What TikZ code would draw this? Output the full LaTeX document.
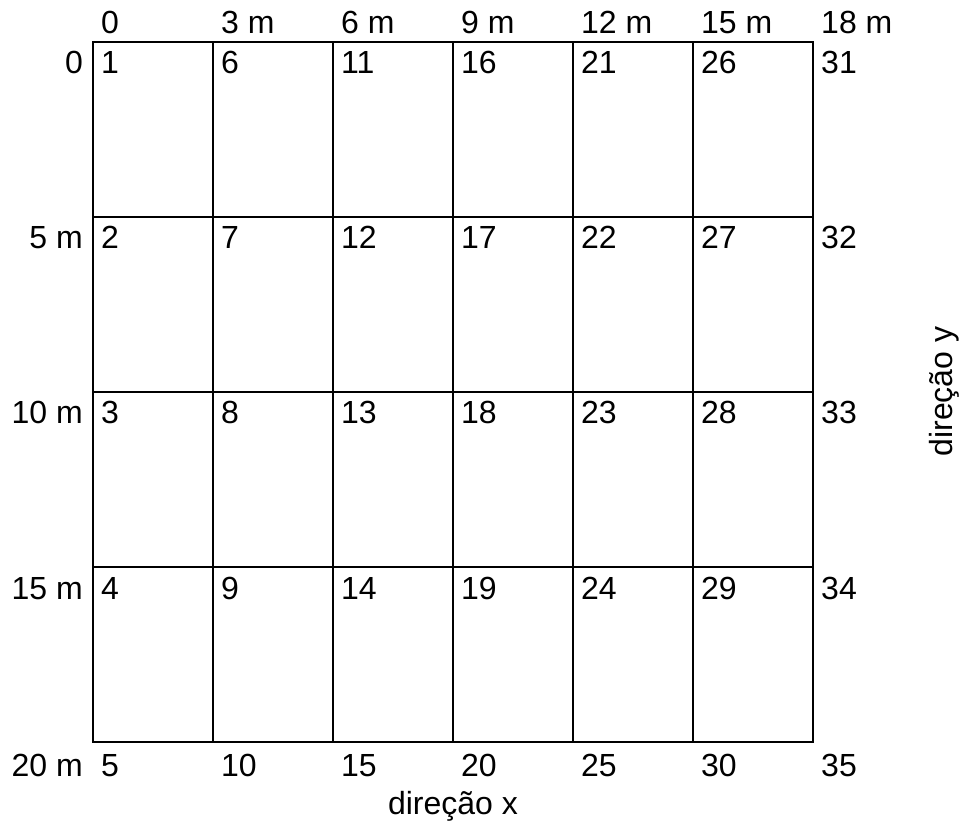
\documentclass[tikz,border=0pt]{standalone}
\usepackage{fontspec}
\setmainfont{Liberation Sans}
\begin{document}
\begin{tikzpicture}[x=1bp,y=-1bp,
  lbl/.style={inner sep=0pt,font=\fontsize{32bp}{36bp}\selectfont},
  gridline/.style={line width=2bp,line cap=rect}]
\useasboundingbox (0,0) rectangle (962,823);
% grid
\foreach \i in {0,...,6} {
  \coordinate (t\i) at (93+120*\i,41.5);
  \coordinate (b\i) at (93+120*\i,741.5);
  \draw[gridline] (t\i) -- (b\i);
}
\foreach \j in {0,...,4} {
  \coordinate (l\j) at (93,41.5+175*\j);
  \coordinate (r\j) at (813,41.5+175*\j);
  \draw[gridline] (l\j) -- (r\j);
}
\coordinate (l5) at (93,741.5);
\coordinate (r5) at (813,741.5);
% top labels
\foreach \t [count=\i from 0] in {0,3 m,6 m,9 m,12 m,15 m,18 m}
  \node[lbl,anchor=base west] (top\i) at (101+120*\i,33) {\t};
% left labels
\foreach \t/\yy [count=\j from 0] in {0/73,5 m/248,10 m/423,15 m/599,20 m/776}
  \node[lbl,anchor=base east] (left\j) at (83,\yy) {\t};
% cell numbers
\foreach \i in {0,...,6} {
  \foreach \j/\yy in {0/73,1/248,2/423,3/599,4/776} {
    \pgfmathtruncatemacro{\n}{5*\i+\j+1}
    \node[lbl,anchor=base west] (n\n) at (101+120*\i,\yy) {\n};
  }
}
\node[lbl,anchor=base] (dx) at (453,814) {direção x};
\node[lbl,anchor=base,rotate=90] (dy) at (952,391.5) {direção y};
\end{tikzpicture}
\end{document}
